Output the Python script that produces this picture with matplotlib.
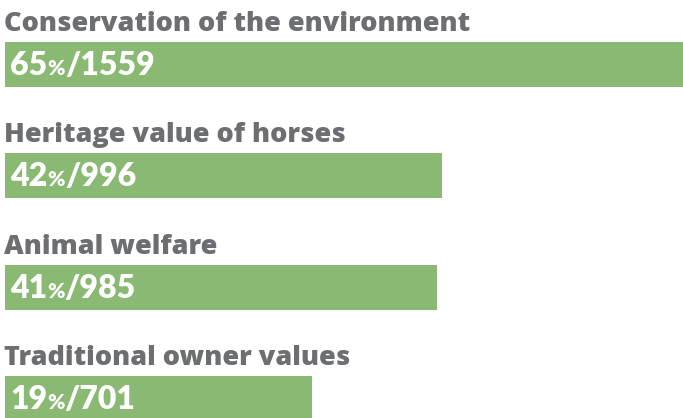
import matplotlib
matplotlib.use("Agg")
from matplotlib import pyplot as plt

# data
categories = ["Conservation of the environment", "Heritage value of horses",
              "Animal welfare", "Traditional owner values"]
percents = [65, 42, 41, 19]
counts = [1559, 996, 985, 701]

GREEN = "#8ab973"
GREY = "#6d6e71"
W, H = 683, 418
step = 111.3      # px between bar centres
bar_px = 45.0     # bar height in px
top_c = 64.5      # centre of first bar in px
xmax = 1547       # first bar runs slightly past the right edge

fig = plt.figure(figsize=(W / 100, H / 100), dpi=100)
ax = fig.add_axes([5 / W, 0, 678 / W, 1])
ax.set_xlim(0, xmax)
ax.set_ylim((H - top_c) / step, -top_c / step)
ax.axis("off")

pos = list(range(len(categories)))
ax.barh(pos, counts, height=bar_px / step, color=GREEN, linewidth=0)

fig.canvas.draw()
r = fig.canvas.get_renderer()
inv = ax.transData.inverted()

for i, (cat, p, n) in enumerate(zip(categories, percents, counts)):
    # grey category label above the bar
    ax.text(-1 / 678 * xmax, i - bar_px / 2 / step - 11 / step, cat, fontsize=19.5,
            fontfamily="Open Sans", fontweight="heavy", color=GREY,
            ha="left", va="baseline")
    # white value label, percent sign drawn smaller
    x = 5 / 678 * xmax
    y = i + 10.5 / step
    for s, fs in [(str(p), 23), ("%", 15), ("/%d" % n, 23)]:
        t = ax.text(x, y, s, fontsize=fs, fontfamily="Lato",
                    fontweight="heavy", color="white", ha="left", va="baseline")
        bb = t.get_window_extent(renderer=r)
        x = inv.transform((bb.x1, 0))[0]

fig.savefig("out.png", dpi=100)
